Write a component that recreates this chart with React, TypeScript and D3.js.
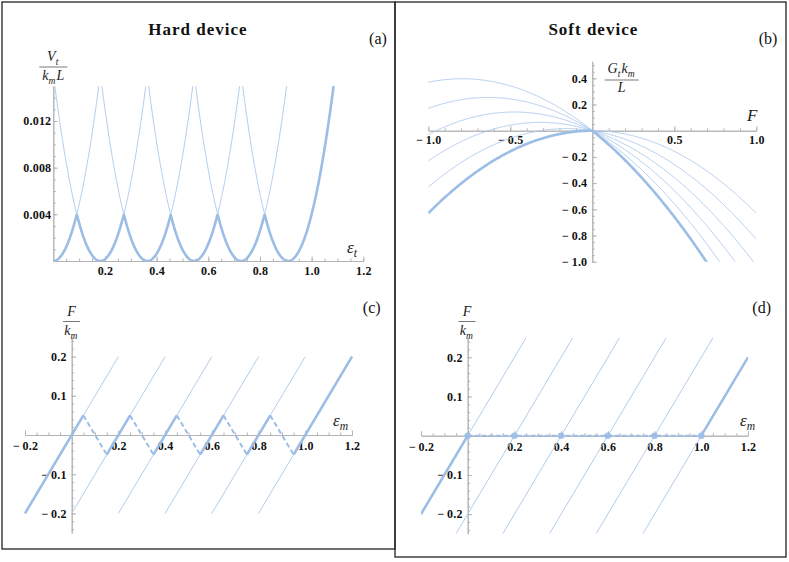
import React, { useRef, useEffect } from 'react';
import * as d3 from 'd3';

// (a) hard device: energy wells, one parabola per configuration
const hardMinima = [0, 0.182, 0.364, 0.545, 0.727, 0.909];
const hardCurvature = 0.484;
const hardTop = 0.015;
const hardXTicks = [0.2, 0.4, 0.6, 0.8, 1.0, 1.2];
const hardYTicks = [0.004, 0.008, 0.012];

// (b) soft device: G = -curv * F^2 - slope * F for each configuration
const softSlopes = [0, 0.2, 0.4, 0.6, 0.8, 1.0];
const softCurvature = 0.63;
const softXTicks = [-1.0, -0.5, 0.5, 1.0];
const softYTicks = [0.4, 0.2, -0.2, -0.4, -0.6, -0.8, -1.0];

// (c), (d) force-strain branches: eps = F + shift
const branchShifts = [0, 0.2, 0.4, 0.6, 0.8, 1.0];
const hardPeaks = [0.05, 0.25, 0.45, 0.65, 0.85];
const hardValleys = [0.15, 0.35, 0.55, 0.75, 0.95];
const switchForce = 0.05;
const softDots = [0, 0.2, 0.4, 0.6, 0.8, 1.0];
const strainXTicks = [-0.2, 0.2, 0.4, 0.6, 0.8, 1.0, 1.2];
const forceYTicks = [0.2, 0.1, -0.1, -0.2];

const SERIF = '"Liberation Serif", "DejaVu Serif", serif';
const BOLD = '#9bbde6';
const THIN = '#a9c7ec';
const AXIS = '#b4b4b4';

const fmt = (d: number, n: number) => (d < 0 ? '\u2212\u2009' : '') + Math.abs(d).toFixed(n);

function range(a: number, b: number, step: number) {
  const out: number[] = [];
  for (let v = a; v <= b + step / 2; v += step) out.push(+v.toFixed(6));
  return out;
}

function drawAxes(g: any, x: any, y: any, o: any) {
  const xa = g.append('g').attr('transform', `translate(0,${y(0)})`);
  xa.append('g').call(d3.axisBottom(x).tickValues(o.xMinor).tickSize(-2.5).tickSizeOuter(0).tickFormat(() => ''));
  xa.append('g').call(d3.axisBottom(x).tickValues(o.xTicks).tickSize(-4.5).tickSizeOuter(0)
    .tickPadding(o.xPad).tickFormat((d: any) => fmt(d, o.xDec)));
  const ya = g.append('g').attr('transform', `translate(${x(0)},0)`);
  ya.append('g').call(d3.axisLeft(y).tickValues(o.yMinor).tickSize(-2.5).tickSizeOuter(0).tickFormat(() => ''));
  ya.append('g').call(d3.axisLeft(y).tickValues(o.yTicks).tickSize(-4.5).tickSizeOuter(0)
    .tickPadding(o.yPad).tickFormat((d: any) => fmt(d, o.yDec)));
  g.selectAll('.domain').attr('stroke', AXIS).attr('stroke-width', 1);
  g.selectAll('.tick line').attr('stroke', AXIS);
  g.selectAll('.tick text').attr('fill', '#111').attr('font-family', SERIF)
    .attr('font-weight', 'bold').attr('font-size', 12).attr('letter-spacing', 0.2);
}

function mathText(g: any, x: number, y: number, parts: string[][], size: number, anchor = 'start') {
  const t = g.append('text').attr('x', x).attr('y', y).attr('text-anchor', anchor)
    .attr('font-family', SERIF).attr('font-style', 'italic').attr('font-size', size).attr('fill', '#222');
  parts.forEach(([main, sub]) => {
    t.append('tspan').text(main);
    if (sub) {
      t.append('tspan').attr('dy', size * 0.25).attr('font-size', size * 0.68).text(sub);
      t.append('tspan').attr('dy', -size * 0.25).text('\u200a');
    }
  });
}

function fraction(g: any, cx: number, yNum: number, yLine: number, yDen: number, half: number,
  num: string[][], den: string[][], size: number) {
  mathText(g, cx, yNum, num, size, 'middle');
  g.append('line').attr('x1', cx - half).attr('x2', cx + half).attr('y1', yLine).attr('y2', yLine)
    .attr('stroke', '#555').attr('stroke-width', 0.8);
  mathText(g, cx, yDen, den, size, 'middle');
}

function label(g: any, x: number, y: number, text: string, size: number, bold = false) {
  g.append('text').attr('x', x).attr('y', y).attr('text-anchor', 'middle').attr('font-family', SERIF)
    .attr('font-size', size).attr('font-weight', bold ? 'bold' : 'normal').attr('fill', '#111')
    .attr('letter-spacing', bold ? 1 : 0).text(text);
}

function clip(svg: any, id: string, x: any, y: any) {
  const [x0, x1] = x.range();
  const [y0, y1] = y.range();
  svg.append('clipPath').attr('id', id).append('rect')
    .attr('x', Math.min(x0, x1)).attr('y', Math.min(y0, y1))
    .attr('width', Math.abs(x1 - x0)).attr('height', Math.abs(y1 - y0));
  return `url(#${id})`;
}

const App = () => {
  const ref = useRef<SVGSVGElement>(null);

  useEffect(() => {
    const svg = d3.select(ref.current);
    svg.selectAll('*').remove();

    // frames
    svg.append('rect').attr('x', 2).attr('y', 2).attr('width', 393).attr('height', 547)
      .attr('fill', 'none').attr('stroke', '#222').attr('stroke-width', 1.3);
    svg.append('rect').attr('x', 395).attr('y', 2).attr('width', 391).attr('height', 555)
      .attr('fill', 'none').attr('stroke', '#222').attr('stroke-width', 1.3);

    // ---------- (a) Hard device energy ----------
    {
      const x = d3.scaleLinear().domain([0, 1.2]).range([53.3, 363.3]);
      const y = d3.scaleLinear().domain([0, hardTop]).range([261, 86]);
      const g = svg.append('g');
      drawAxes(g, x, y, {
        xTicks: hardXTicks, xMinor: range(0.05, 1.2, 0.05), xPad: 5.5, xDec: 1,
        yTicks: hardYTicks, yMinor: range(0.001, 0.014, 0.001), yPad: 2, yDec: 3,
      });
      const cp = clip(svg, 'clipA', x, y);
      const w = Math.sqrt(hardTop / hardCurvature);
      const line = d3.line<number>().x(e => x(e)).y(e => y(0));
      const plot = g.append('g').attr('clip-path', cp);
      hardMinima.forEach(c => {
        const pts = d3.range(Math.max(0, c - w), Math.min(1.2, c + w) + 1e-9, 0.002);
        plot.append('path').datum(pts)
          .attr('d', line.y(e => y(hardCurvature * (e - c) ** 2)))
          .attr('fill', 'none').attr('stroke', THIN).attr('stroke-width', 0.9);
      });
      const env = d3.range(0, hardMinima[hardMinima.length - 1] + w, 0.001);
      plot.append('path').datum(env)
        .attr('d', line.y(e => y(d3.min(hardMinima, c => hardCurvature * (e - c) ** 2) as number)))
        .attr('fill', 'none').attr('stroke', BOLD).attr('stroke-width', 2.6);
      label(g, 198, 35, 'Hard device', 17, true);
      label(g, 378, 44, '(a)', 16);
      fraction(g, 53.3, 61, 67, 80, 14, [['V', 't']], [['k', 'm'], ['L']], 14);
      mathText(g, 347, 253, [['\u03b5', 't']], 17);
    }

    // ---------- (b) Soft device Gibbs energy ----------
    {
      const x = d3.scaleLinear().domain([-1, 1]).range([428.3, 756.3]);
      const y = d3.scaleLinear().domain([-1, 0.53]).range([261.7, 61.3]);
      const g = svg.append('g');
      drawAxes(g, x, y, {
        xTicks: softXTicks, xMinor: range(-1, 1, 0.1), xPad: 4.5, xDec: 1,
        yTicks: softYTicks, yMinor: range(-1, 0.5, 0.05), yPad: 5, yDec: 1,
      });
      const cp = clip(svg, 'clipB', x, y);
      const plot = g.append('g').attr('clip-path', cp);
      const Fs = d3.range(-1, 1.0001, 0.005);
      const G = (F: number, s: number) => -softCurvature * F * F - s * F;
      softSlopes.forEach(s => {
        plot.append('path').datum(Fs)
          .attr('d', d3.line<number>().x(F => x(F)).y(F => y(G(F, s))))
          .attr('fill', 'none').attr('stroke', THIN).attr('stroke-width', 0.9);
      });
      plot.append('path').datum(Fs)
        .attr('d', d3.line<number>().x(F => x(F)).y(F => y(d3.min(softSlopes, s => G(F, s)) as number)))
        .attr('fill', 'none').attr('stroke', BOLD).attr('stroke-width', 2.6);
      label(g, 593.3, 35, 'Soft device', 17, true);
      label(g, 768, 44, '(b)', 16);
      fraction(g, 621.7, 73, 80, 92, 17, [['G', 't'], ['k', 'm']], [['L']], 14);
      mathText(g, 747, 121, [['F']], 17);
    }

    // ---------- (c) Hard device force-strain ----------
    {
      const x = d3.scaleLinear().domain([-0.2, 1.2]).range([25, 352]);
      const y = d3.scaleLinear().domain([-0.25, 0.25]).range([533, 337]);
      const g = svg.append('g');
      drawAxes(g, x, y, {
        xTicks: strainXTicks, xMinor: range(-0.2, 1.2, 0.05), xPad: 6.5, xDec: 1,
        yTicks: forceYTicks, yMinor: range(-0.24, 0.24, 0.02), yPad: 5, yDec: 1,
      });
      const plot = g.append('g');
      branchShifts.forEach(s => {
        plot.append('path').datum([-0.2, 0.2])
          .attr('d', d3.line<number>().x(F => x(F + s)).y(F => y(F)))
          .attr('stroke', THIN).attr('stroke-width', 0.9);
      });
      const seg = (s: number, e0: number, e1: number) =>
        plot.append('path').datum([e0, e1])
          .attr('d', d3.line<number>().x(e => x(e)).y(e => y(e - s)))
          .attr('stroke', BOLD).attr('stroke-width', 2.6);
      seg(branchShifts[0], -0.2, hardPeaks[0]);
      hardValleys.forEach((v, i) => {
        const end = i + 1 < hardPeaks.length ? hardPeaks[i + 1] : 1.2;
        seg(branchShifts[i + 1], v, end);
      });
      hardPeaks.forEach((p, i) => {
        plot.append('path').datum([[p, switchForce], [hardValleys[i], -switchForce]])
          .attr('d', d3.line<number[]>().x(d => x(d[0])).y(d => y(d[1])))
          .attr('stroke', BOLD).attr('stroke-width', 2).attr('stroke-dasharray', '5 3');
      });
      label(g, 371.7, 313, '(c)', 16);
      fraction(g, 71.5, 316, 321.5, 335, 8.5, [['F']], [['k', 'm']], 14);
      mathText(g, 333, 426, [['\u03b5', 'm']], 17);
    }

    // ---------- (d) Soft device force-strain ----------
    {
      const x = d3.scaleLinear().domain([-0.2, 1.2]).range([421, 748]);
      const y = d3.scaleLinear().domain([-0.25, 0.25]).range([533.7, 337.7]);
      const g = svg.append('g');
      drawAxes(g, x, y, {
        xTicks: strainXTicks, xMinor: range(-0.2, 1.2, 0.05), xPad: 6.5, xDec: 1,
        yTicks: forceYTicks, yMinor: range(-0.24, 0.24, 0.02), yPad: 5, yDec: 1,
      });
      const cp = clip(svg, 'clipD', x, y);
      const plot = g.append('g').attr('clip-path', cp);
      branchShifts.forEach(s => {
        plot.append('path').datum([-0.25, 0.25])
          .attr('d', d3.line<number>().x(F => x(F + s)).y(F => y(F)))
          .attr('stroke', THIN).attr('stroke-width', 0.9);
      });
      const first = branchShifts[0];
      const last = branchShifts[branchShifts.length - 1];
      plot.append('path').datum([-0.2, 0])
        .attr('d', d3.line<number>().x(F => x(F + first)).y(F => y(F)))
        .attr('stroke', BOLD).attr('stroke-width', 2.6);
      plot.append('path').datum([0, 0.2])
        .attr('d', d3.line<number>().x(F => x(F + last)).y(F => y(F)))
        .attr('stroke', BOLD).attr('stroke-width', 2.6);
      plot.append('path').datum([first, last])
        .attr('d', d3.line<number>().x(e => x(e)).y(() => y(0)))
        .attr('stroke', BOLD).attr('stroke-width', 2).attr('stroke-dasharray', '5 2');
      plot.selectAll('circle.dot').data(softDots).enter().append('circle')
        .attr('cx', d => x(d)).attr('cy', y(0)).attr('r', 3.3)
        .attr('fill', BOLD).attr('fill-opacity', 0.9);
      label(g, 761.7, 313, '(d)', 16);
      fraction(g, 467, 316, 321.5, 335, 8.5, [['F']], [['k', 'm']], 14);
      mathText(g, 740, 426, [['\u03b5', 'm']], 17);
    }
  }, []);

  return (
    <svg ref={ref} width={789} height={562}
      style={{ position: 'absolute', left: 0, top: 0, background: '#fff' }} />
  );
};

export default App;
